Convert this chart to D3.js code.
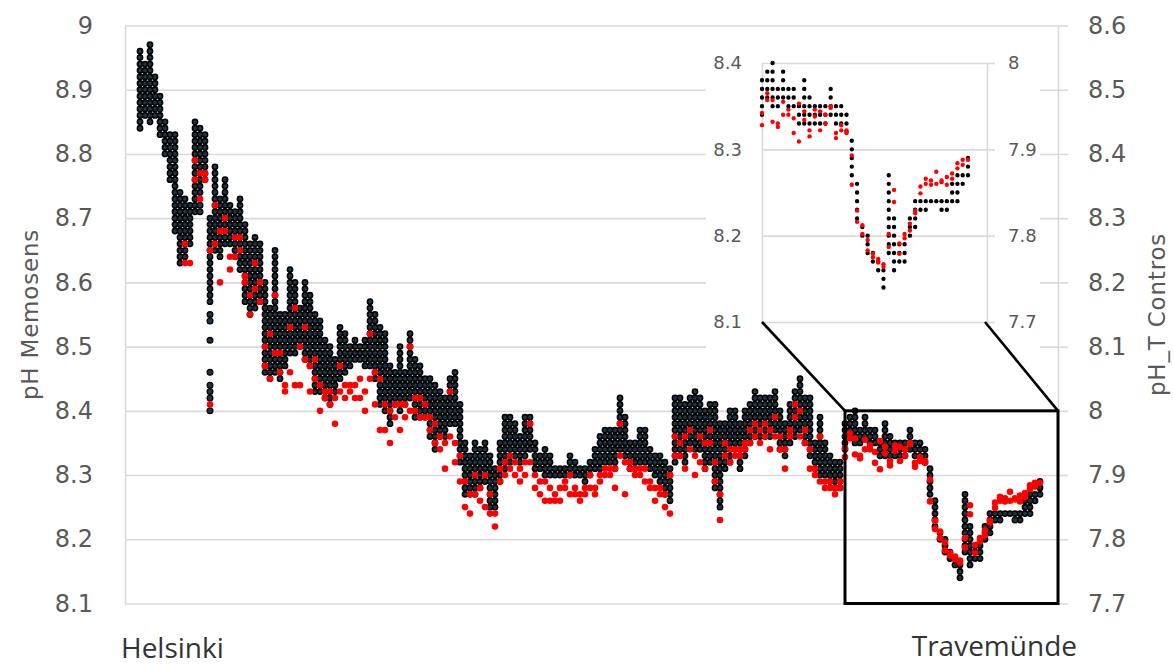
<!DOCTYPE html>
<html>
<head>
<meta charset="utf-8">
<script src="https://cdn.jsdelivr.net/npm/d3@7"></script>
<style>
  body { margin: 0; background: #fff; }
  svg { display: block; }
</style>
</head>
<body>
<svg id="chart" width="1173" height="666"></svg>
<script>
// Memosens pH: lowest and highest reading in each sampling bin along the route
const memosensLow = [
  8.84, 8.86, 8.85, 8.86, 8.83, 8.80, 8.76, 8.68, 8.63, 8.64,
  8.66, 8.71, 8.74, 8.76, 8.57, 8.65, 8.64, 8.66, 8.66, 8.64,
  8.62, 8.57, 8.55, 8.56, 8.57, 8.46, 8.45, 8.46, 8.45, 8.47,
  8.49, 8.49, 8.50, 8.48, 8.47, 8.43, 8.43, 8.42, 8.41, 8.43,
  8.45, 8.46, 8.47, 8.48, 8.48, 8.47, 8.47, 8.45, 8.41, 8.40,
  8.38, 8.41, 8.40, 8.41, 8.42, 8.39, 8.39, 8.39, 8.36, 8.34,
  8.36, 8.36, 8.38, 8.38, 8.32, 8.27, 8.27, 8.27, 8.28, 8.29,
  8.25, 8.25, 8.29, 8.31, 8.32, 8.33, 8.32, 8.33, 8.34, 8.31,
  8.31, 8.30, 8.30, 8.30, 8.30, 8.30, 8.30, 8.30, 8.30, 8.29,
  8.30, 8.31, 8.31, 8.32, 8.32, 8.31, 8.34, 8.33, 8.31, 8.31,
  8.32, 8.32, 8.31, 8.30, 8.29, 8.27, 8.26, 8.32, 8.33, 8.32,
  8.35, 8.34, 8.34, 8.31, 8.32, 8.28, 8.25, 8.31, 8.32, 8.34,
  8.31, 8.33, 8.35, 8.36, 8.36, 8.36, 8.36, 8.37, 8.34, 8.33,
  8.35, 8.36, 8.37, 8.35, 8.33, 8.31, 8.30, 8.30, 8.29, 8.28,
  8.28, 8.34, 8.36, 8.35, 8.35, 8.36, 8.35, 8.35, 8.33, 8.33,
  8.33, 8.33, 8.33, 8.33, 8.34, 8.33, 8.33, 8.32, 8.27, 8.22,
  8.20, 8.18, 8.17, 8.16, 8.14, 8.18, 8.16, 8.17, 8.17, 8.20,
  8.21, 8.23, 8.23, 8.24, 8.24, 8.24, 8.23, 8.24, 8.24, 8.26,
  8.27
];
const memosensHigh = [
  8.96, 8.94, 8.97, 8.92, 8.89, 8.85, 8.83, 8.83, 8.74, 8.73,
  8.72, 8.85, 8.84, 8.83, 8.70, 8.78, 8.73, 8.76, 8.72, 8.71,
  8.73, 8.69, 8.66, 8.67, 8.66, 8.60, 8.56, 8.65, 8.55, 8.55,
  8.62, 8.60, 8.56, 8.60, 8.58, 8.55, 8.54, 8.51, 8.50, 8.48,
  8.53, 8.52, 8.50, 8.51, 8.50, 8.51, 8.57, 8.55, 8.53, 8.52,
  8.47, 8.46, 8.50, 8.46, 8.52, 8.48, 8.47, 8.45, 8.45, 8.44,
  8.43, 8.42, 8.45, 8.46, 8.41, 8.35, 8.33, 8.35, 8.34, 8.35,
  8.33, 8.31, 8.35, 8.39, 8.39, 8.38, 8.36, 8.39, 8.39, 8.35,
  8.33, 8.34, 8.33, 8.31, 8.31, 8.31, 8.33, 8.32, 8.31, 8.31,
  8.32, 8.34, 8.36, 8.37, 8.37, 8.37, 8.42, 8.39, 8.35, 8.35,
  8.37, 8.37, 8.34, 8.33, 8.33, 8.32, 8.31, 8.42, 8.42, 8.41,
  8.42, 8.43, 8.42, 8.40, 8.41, 8.41, 8.38, 8.38, 8.40, 8.40,
  8.38, 8.40, 8.41, 8.43, 8.42, 8.42, 8.42, 8.43, 8.40, 8.38,
  8.41, 8.43, 8.45, 8.42, 8.42, 8.35, 8.39, 8.35, 8.33, 8.32,
  8.32, 8.38, 8.39, 8.40, 8.37, 8.39, 8.37, 8.37, 8.35, 8.38,
  8.36, 8.35, 8.35, 8.35, 8.37, 8.35, 8.35, 8.34, 8.31, 8.26,
  8.21, 8.20, 8.18, 8.17, 8.16, 8.27, 8.22, 8.19, 8.19, 8.22,
  8.24, 8.24, 8.24, 8.24, 8.24, 8.24, 8.24, 8.26, 8.27, 8.27,
  8.29
];
// Single Memosens readings lying apart from their bin's run
const strayIdx = [12, 12, 14, 14, 14, 14, 14, 14, 14, 14, 175];
const strayVal = [8.72, 8.71, 8.55, 8.54, 8.51, 8.46, 8.44, 8.43, 8.42, 8.40, 8.23];

// Contros pH_T: two readings per sampling bin (null where none was logged)
const controsA = [
  null, null, null, null, null, null, null, null, null, 8.26,
  8.23, 8.39, 8.37, 8.37, 8.25, 8.32, 8.28, 8.30, 8.24, 8.27,
  8.27, 8.21, 8.18, 8.23, 8.20, 8.10, 8.12, 8.18, 8.09, 8.04,
  8.13, 8.16, 8.10, 8.13, 8.07, 8.08, 8.04, 8.03, 8.03, 8.02,
  8.07, 8.04, 8.04, 8.04, 8.05, 8.03, 8.12, 8.06, 8.05, 8.01,
  8.00, 8.01, 8.01, 8.01, 8.10, 8.02, 8.02, 8.01, 7.99, 7.98,
  7.96, 7.95, 8.03, 7.95, 7.93, 7.89, 7.87, 7.90, 7.88, 7.90,
  7.87, 7.84, 7.91, 7.92, 7.93, 7.92, 7.91, 7.92, 7.98, 7.90,
  7.89, 7.89, 7.88, 7.87, 7.88, 7.89, 7.90, 7.88, 7.87, 7.88,
  7.90, 7.88, 7.90, 7.91, 7.91, 7.91, 7.98, 7.92, 7.92, 7.91,
  7.91, 7.91, 7.89, 7.88, 7.88, 7.87, 7.90, 7.96, 7.95, 7.96,
  7.97, 7.93, 7.96, 7.95, 7.97, 7.92, 7.87, 7.95, 7.94, 7.94,
  7.94, 7.95, 7.97, 7.98, 7.97, 7.98, 7.97, 7.99, 7.96, 7.94,
  7.97, 8.01, 8.00, 7.97, 7.94, 7.91, 7.96, 7.89, 7.89, 7.88,
  7.89, 7.942, 7.965, 7.957, 7.930, 7.955, 7.940, 7.919, 7.909, 7.934,
  7.922, 7.938, 7.944, 7.930, 7.948, 7.919, 7.928, 7.919, 7.893, 7.829,
  7.812, 7.795, 7.779, 7.773, 7.767, 7.802, 7.853, 7.791, 7.797, 7.806,
  7.826, 7.849, 7.860, 7.864, 7.860, 7.862, 7.868, 7.872, 7.878, 7.888,
  7.888
];
const controsB = [
  null, null, null, null, null, null, null, null, null, 8.23,
  null, 8.36, 8.33, 8.36, 8.01, 8.26, 8.20, 8.28, 8.22, 8.24,
  8.25, 8.20, 8.15, 8.19, 8.17, 8.07, 8.05, 8.09, 8.06, 8.03,
  8.06, 8.04, 8.04, 8.08, 8.03, 8.05, 8.00, 8.02, 8.01, 7.98,
  8.03, 8.02, 8.03, 8.02, 8.02, 8.00, 8.05, 8.01, 7.97, 7.97,
  7.95, 7.99, 7.97, 7.99, 8.00, 8.00, 7.99, 7.99, 7.97, 7.95,
  7.94, 7.91, 7.96, 7.92, 7.89, 7.85, 7.84, 7.87, 7.86, 7.85,
  7.84, 7.82, 7.89, 7.90, 7.91, 7.90, 7.89, 7.90, 7.92, 7.88,
  7.87, 7.86, 7.86, 7.86, 7.86, 7.88, 7.87, 7.87, 7.86, 7.87,
  7.88, 7.87, 7.89, 7.90, 7.90, 7.88, 7.93, 7.87, 7.91, 7.90,
  7.90, 7.89, 7.88, 7.86, 7.87, 7.85, 7.84, 7.93, 7.93, 7.91,
  7.94, 7.90, 7.92, 7.91, 7.95, 7.89, 7.83, 7.93, 7.92, 7.93,
  7.93, 7.94, 7.95, 7.96, 7.95, 7.96, 7.94, 7.96, 7.94, 7.91,
  7.96, 7.99, 7.96, 7.95, 7.91, 7.90, 7.89, 7.88, 7.88, 7.87,
  7.88, 7.928, 7.957, 7.932, 7.926, 7.940, 7.946, 7.936, 7.953, 7.944,
  7.915, 7.946, 7.922, 7.940, 7.950, 7.913, 7.922, 7.922, 7.859, 7.816,
  7.802, 7.783, 7.775, 7.769, 7.764, 7.787, 7.839, 7.779, 7.802, 7.814,
  7.829, 7.857, 7.866, 7.859, 7.874, 7.864, 7.859, 7.866, 7.884, 7.882,
  null
];

const leftTicks = [8.1, 8.2, 8.3, 8.4, 8.5, 8.6, 8.7, 8.8, 8.9, 9.0];
const rightTicks = [7.7, 7.8, 7.9, 8.0, 8.1, 8.2, 8.3, 8.4, 8.5, 8.6];
const insetLeftTicks = [8.1, 8.2, 8.3, 8.4];
const insetRightTicks = [7.7, 7.8, 7.9, 8.0];
const zoomBins = [141, 183.6];          // sampling bins shown enlarged in the inset
const leftTitle = "pH Memosens";
const rightTitle = "pH_T Contros";
const startPort = "Helsinki";
const endPort = "Travemünde";

const svg = d3.select("#chart");
const fmt = v => String(+v.toFixed(1));
const numFont = "'DejaVu Sans', sans-serif";
const grid = "#d9d9d9";
const tickInk = "#595959";

// ---------- main panel ----------
const plot = { left: 125, right: 1058, top: 25.5, bottom: 603.5 };
const x = d3.scaleLinear().domain([-3, 183.6]).range([plot.left, plot.right]);
const yL = d3.scaleLinear().domain([8.1, 9.0]).range([plot.bottom, plot.top]);
const yR = d3.scaleLinear().domain([7.7, 8.6]).range([plot.bottom, plot.top]);

function styleAxis(g, size) {
  g.select(".domain").attr("stroke", grid).attr("stroke-width", 1.6);
  g.selectAll(".tick line").attr("stroke", grid).attr("stroke-width", 1.6);
  g.selectAll(".tick text").attr("fill", tickInk)
    .attr("font-family", numFont).attr("font-size", size);
}

svg.append("g").attr("transform", `translate(${plot.left},0)`)
  .call(d3.axisLeft(yL).tickValues(leftTicks).tickFormat(fmt)
    .tickSize(-(plot.right - plot.left)).tickSizeOuter(0).tickPadding(32))
  .call(g => styleAxis(g, 24));

svg.append("g").attr("transform", `translate(${plot.right},0)`)
  .call(d3.axisRight(yR).tickValues(rightTicks).tickFormat(fmt)
    .tickSize(10).tickSizeOuter(0).tickPadding(20))
  .call(g => styleAxis(g, 24));

// Memosens bins: one dot per 0.01 reading between the bin's low and high
function binPaths(g, xs, ys, bins, width, inner) {
  const step = ys(8.1) - ys(8.11);
  const d = b => `M${xs(b.i)},${ys(b.lo)}V${ys(b.hi) - 0.05}`;
  g.selectAll("path.outer").data(bins).join("path").attr("class", "outer")
    .attr("d", d).attr("fill", "none").attr("stroke", "#000")
    .attr("stroke-width", width).attr("stroke-linecap", "round")
    .attr("stroke-dasharray", `0 ${step}`);
  if (inner) {
    g.selectAll("path.inner").data(bins).join("path").attr("class", "inner")
      .attr("d", d).attr("fill", "none").attr("stroke", inner)
      .attr("stroke-width", width - 3).attr("stroke-linecap", "round")
      .attr("stroke-dasharray", `0 ${step}`);
  }
}

const bins = memosensLow.map((lo, i) => ({ i, lo, hi: memosensHigh[i] }));
const strays = strayIdx.map((i, k) => ({ i, v: strayVal[k] }));
const contros = [];
controsA.forEach((v, i) => { if (v !== null) contros.push({ i, v }); });
controsB.forEach((v, i) => { if (v !== null) contros.push({ i, v }); });

const mainData = svg.append("g");
binPaths(mainData.append("g"), x, yL, bins, 6.8, "#1f3442");
mainData.append("g").selectAll("circle").data(strays).join("circle")
  .attr("cx", d => x(d.i)).attr("cy", d => yL(d.v)).attr("r", 2.9)
  .attr("fill", "#1f3442").attr("stroke", "#000").attr("stroke-width", 1.2);
mainData.append("g").selectAll("circle").data(contros).join("circle")
  .attr("cx", d => x(d.i)).attr("cy", d => yR(d.v)).attr("r", 3.3)
  .attr("fill", "#ff0000");

// axis titles and route end points
svg.append("text").text(leftTitle)
  .attr("transform", `translate(30,${(plot.top + plot.bottom) / 2}) rotate(-90)`)
  .attr("text-anchor", "middle").attr("dominant-baseline", "central")
  .attr("font-family", numFont).attr("font-size", 23).attr("letter-spacing", 0.8)
  .attr("fill", tickInk);
svg.append("text").text(rightTitle)
  .attr("transform", `translate(1157,${(plot.top + plot.bottom) / 2}) rotate(-90)`)
  .attr("text-anchor", "middle").attr("dominant-baseline", "central")
  .attr("font-family", numFont).attr("font-size", 23).attr("letter-spacing", 0.8)
  .attr("fill", tickInk);
svg.append("text").text(startPort).attr("x", 121).attr("y", 658)
  .attr("font-family", "'Open Sans', sans-serif").attr("font-size", 28).attr("fill", "#333");
svg.append("text").text(endPort).attr("x", 1077).attr("y", 656).attr("text-anchor", "end")
  .attr("font-family", "'Open Sans', sans-serif").attr("font-size", 28).attr("fill", "#333");

// ---------- inset: enlarged view of the last stretch ----------
const inset = { left: 762, right: 987, top: 63, bottom: 322 };
svg.append("rect").attr("x", 706).attr("y", 36).attr("width", 334).attr("height", 322)
  .attr("fill", "#fff");
const xi = d3.scaleLinear().domain(zoomBins).range([inset.left, inset.right]);
const yiL = d3.scaleLinear().domain([8.1, 8.4]).range([inset.bottom, inset.top]);
const yiR = d3.scaleLinear().domain([7.7, 8.0]).range([inset.bottom, inset.top]);

svg.append("g").attr("transform", `translate(${inset.left},0)`)
  .call(d3.axisLeft(yiL).tickValues(insetLeftTicks).tickFormat(fmt)
    .tickSize(-(inset.right - inset.left)).tickSizeOuter(0).tickPadding(20))
  .call(g => styleAxis(g, 18));
svg.append("g").attr("transform", `translate(${inset.right},0)`)
  .call(d3.axisRight(yiR).tickValues(insetRightTicks).tickFormat(fmt)
    .tickSize(8).tickSizeOuter(0).tickPadding(13))
  .call(g => styleAxis(g, 18));

const inBox = d => d.i >= zoomBins[0] && d.i <= zoomBins[1];
const insetData = svg.append("g");
binPaths(insetData.append("g"), xi, yiL, bins.filter(inBox), 4.4, null);
insetData.append("g").selectAll("circle").data(strays.filter(inBox)).join("circle")
  .attr("cx", d => xi(d.i)).attr("cy", d => yiL(d.v)).attr("r", 2.2).attr("fill", "#000");
insetData.append("g").selectAll("circle").data(contros.filter(inBox)).join("circle")
  .attr("cx", d => xi(d.i)).attr("cy", d => yiR(d.v)).attr("r", 2.2)
  .attr("fill", "#ff0000");

// zoom frame on the main panel and its connectors to the inset
const frame = { x0: x(zoomBins[0]), x1: x(zoomBins[1]), y0: yL(8.4), y1: yL(8.1) };
svg.append("rect").attr("x", frame.x0).attr("y", frame.y0)
  .attr("width", frame.x1 - frame.x0).attr("height", frame.y1 - frame.y0)
  .attr("fill", "none").attr("stroke", "#000").attr("stroke-width", 3);
svg.append("line").attr("x1", inset.left).attr("y1", inset.bottom)
  .attr("x2", frame.x0).attr("y2", frame.y0).attr("stroke", "#000").attr("stroke-width", 2.6);
svg.append("line").attr("x1", inset.right - 2).attr("y1", inset.bottom)
  .attr("x2", frame.x1).attr("y2", frame.y0).attr("stroke", "#000").attr("stroke-width", 2.6);
</script>
</body>
</html>
